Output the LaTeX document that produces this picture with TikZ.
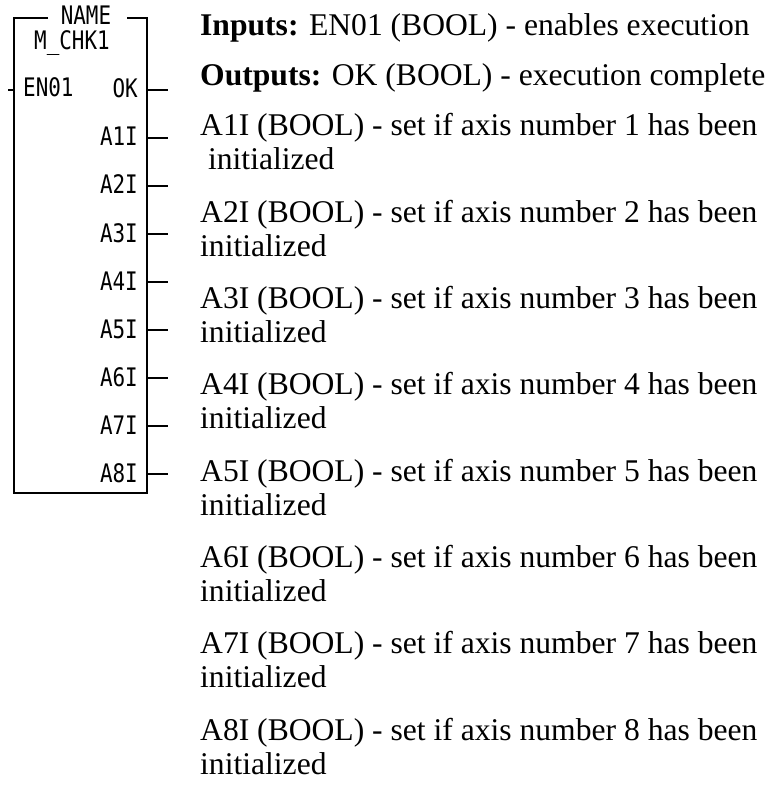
\documentclass[tikz,border=0pt]{standalone}
\usepackage{fontspec}
\setmainfont{Liberation Serif}
\newfontfamily\plcfont[FakeStretch=0.82]{DejaVu Sans Mono}
\begin{document}
\begin{tikzpicture}[x=1pt,y=-1pt,
  blockline/.style={line width=2.2pt},
  plctext/.style={inner sep=0pt,font=\plcfont\fontsize{25.5}{28}\selectfont},
  pinlabel/.style={plctext,anchor=base east},
  desc/.style={inner sep=0pt,anchor=base west,font=\fontsize{31.6}{36}\selectfont}]
\useasboundingbox (0,0) rectangle (771,794);
% block outline
\coordinate (tl) at (14,18);
\coordinate (tr) at (147,18);
\coordinate (bl) at (14,493);
\coordinate (br) at (147,493);
\coordinate (tla) at (48,18);
\coordinate (tra) at (127,18);
\draw[blockline] (tla) -- (tl) -- (bl) -- (br) -- (tr) -- (tra);
\node[plctext,anchor=base] (name) at (86,25) {NAME};
\node[plctext,anchor=base] (fname) at (72,50) {M\_CHK1};
% input
\node[plctext,anchor=base west] (en) at (23,97) {EN01};
\coordinate (enL) at (8,90);
\coordinate (enR) at (14,90);
\draw[blockline] (enL) -- (enR);
% outputs
\foreach \lab [count=\i from 0] in {OK,A1I,A2I,A3I,A4I,A5I,A6I,A7I,A8I}{
  \pgfmathsetmacro{\yy}{90+48*\i}
  \node[pinlabel] (o\i) at (138,\yy+8) {\lab};
  \coordinate (oa\i) at (147,\yy);
  \coordinate (ob\i) at (168,\yy);
  \draw[blockline] (oa\i) -- (ob\i);
}
% description text
\node[desc] (inp) at (200,36) {\textbf{Inputs:} EN01 (BOOL) - enables execution};
\node[desc] (outp) at (200,86) {\textbf{Outputs:} OK (BOOL) - execution complete};
\foreach \k in {1,...,8}{
  \pgfmathsetmacro{\yb}{136+86.3*(\k-1)}
  \node[desc] (d\k) at (200,\yb) {A\k I (BOOL) - set if axis number \k\ has been};
  \ifnum\k=1
    \node[desc] (e\k) at (200,\yb+34) {\ initialized};
  \else
    \node[desc] (e\k) at (200,\yb+34) {initialized};
  \fi
}
\end{tikzpicture}
\end{document}
